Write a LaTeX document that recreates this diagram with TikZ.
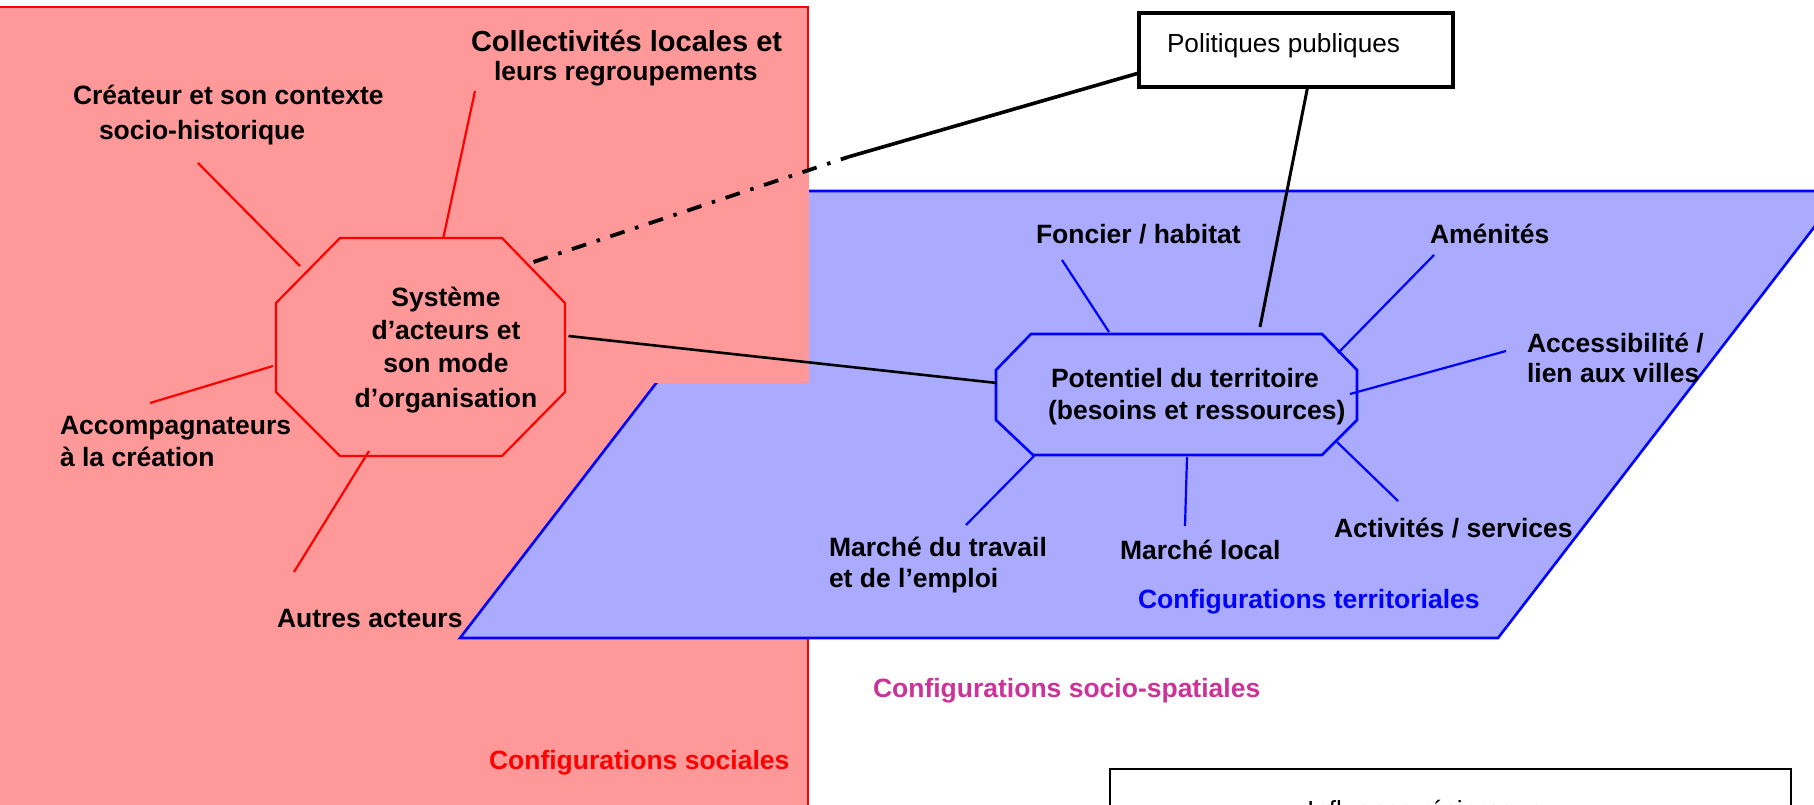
\documentclass[tikz,border=0pt]{standalone}
\usepackage{fontspec}
\setmainfont{Liberation Sans}
\definecolor{redfill}{RGB}{255,153,153}
\definecolor{bluefill}{RGB}{170,170,255}
\definecolor{magtext}{RGB}{204,51,153}
\definecolor{pureblue}{RGB}{0,0,255}
\definecolor{purered}{RGB}{255,0,0}
\tikzset{
  lbl/.style={anchor=base west, inner sep=0pt, outer sep=0pt, font=\fontsize{26.5}{30}\selectfont\bfseries},
  lblc/.style={anchor=base, inner sep=0pt, outer sep=0pt, font=\fontsize{26.5}{30}\selectfont\bfseries},
  plain/.style={anchor=base west, inner sep=0pt, outer sep=0pt, font=\fontsize{26.2}{30}\selectfont},
  redline/.style={draw=purered, line width=2.2pt},
  blueline/.style={draw=pureblue, line width=2.2pt},
  blackline/.style={draw=black, line width=2.6pt},
  thickline/.style={draw=black, line width=3.6pt},
  dashdotline/.style={draw=black, line width=3.8pt, dash pattern=on 15pt off 11pt on 3.5pt off 11pt},
}
\begin{document}
\begin{tikzpicture}[x=1pt,y=-1pt,line join=miter]
\useasboundingbox (0,0) rectangle (1814,805);

% backgrounds
\path[fill=redfill, draw=purered, line width=2pt] (-10,7) rectangle (808,830);
\path[fill=bluefill, draw=pureblue, line width=2.6pt] (804,191) -- (1842,191) -- (1498,638) -- (460,638) -- cycle;
\fill[redfill] (630,172) rectangle (809.3,383);

% red octagon
\draw[redline] (340,238) -- (502,238) -- (565,303) -- (565,392) -- (502,456) -- (340,456) -- (276,392) -- (276,303) -- cycle;
% blue octagon
\draw[blueline, line width=2.6pt] (1031,334) -- (1322,334) -- (1357,370) -- (1357,420) -- (1322,455) -- (1033,455) -- (996,420) -- (996,370) -- cycle;

% boxes
\node[draw=black, line width=3.6pt, fill=white, inner sep=0pt, outer sep=0pt, minimum width=314pt, minimum height=74pt, anchor=north west] (polbox) at (1139,13) {};
\node[draw=black, line width=2pt, fill=white, inner sep=0pt, outer sep=0pt, minimum width=681pt, minimum height=70pt, anchor=north west] (inflbox) at (1110,769) {};

% connector end points
\coordinate (creaE) at (198,163);   \coordinate (creaS) at (300,266);
\coordinate (collE) at (475,91);    \coordinate (collS) at (443.5,237);
\coordinate (accE) at (150,403);    \coordinate (accS) at (273,366);
\coordinate (autE) at (294,572);    \coordinate (autS) at (369,451);
\coordinate (sysR) at (568.5,336);  \coordinate (potL) at (997,383);
\coordinate (sysD) at (533.5,262);  \coordinate (bend) at (848,157);
\coordinate (polW) at (1139,73);
\coordinate (polS) at (1307.6,87);  \coordinate (potT) at (1260,327);
\coordinate (foncE) at (1062,260);  \coordinate (foncS) at (1109,332);
\coordinate (amenE) at (1434,255);  \coordinate (amenS) at (1338,353);
\coordinate (accessE) at (1506,351);\coordinate (accessS) at (1350,394);
\coordinate (mtE) at (966,525);     \coordinate (mtS) at (1034,456);
\coordinate (mlE) at (1185,526);    \coordinate (mlS) at (1187,457);
\coordinate (actE) at (1398,501);   \coordinate (actS) at (1337,442);

% red connectors
\draw[redline] (creaE) -- (creaS);
\draw[redline] (collE) -- (collS);
\draw[redline] (accE) -- (accS);
\draw[redline] (autE) -- (autS);
% black connectors
\draw[blackline] (sysR) -- (potL);
\draw[dashdotline] (sysD) -- (bend);
\draw[thickline] (bend) -- (polW);
\draw[thickline, line width=3pt] (polS) -- (potT);
% blue connectors
\draw[blueline] (foncE) -- (foncS);
\draw[blueline] (amenE) -- (amenS);
\draw[blueline] (accessE) -- (accessS);
\draw[blueline] (mtE) -- (mtS);
\draw[blueline] (mlE) -- (mlS);
\draw[blueline] (actE) -- (actS);

% labels, social side
\node[lbl, font=\fontsize{29}{32}\selectfont\bfseries] (coll1) at (471,52) {Collectivités locales et};
\node[lbl] (coll2) at (494,80.5) {leurs regroupements};
\node[lbl] (crea1) at (73,104.5) {Créateur et son contexte};
\node[lbl] (crea2) at (99,139.5) {socio-historique};
\node[lbl] (acc1) at (60,434.5) {Accompagnateurs};
\node[lbl] (acc2) at (60,466.5) {à la création};
\node[lbl] (autres) at (277,627.5) {Autres acteurs};
\node[lbl, text=purered] (confsoc) at (489,769.5) {Configurations sociales};

\node[lblc] (sys1) at (446,306.5) {Système};
\node[lblc] (sys2) at (446,339.5) {d’acteurs et};
\node[lblc] (sys3) at (446,372.5) {son mode};
\node[lblc] (sys4) at (446,407) {d’organisation};

% labels, territorial side
\node[plain] (pol) at (1167,52.5) {Politiques publiques};
\node[lbl] (fonc) at (1036,243.5) {Foncier / habitat};
\node[lbl] (amen) at (1430,243.5) {Aménités};
\node[lbl] (access1) at (1527,352.5) {Accessibilité /};
\node[lbl] (access2) at (1527,382.5) {lien aux villes};
\node[lbl] (pot1) at (1051,387.5) {Potentiel du territoire};
\node[lbl] (pot2) at (1048,419.5) {(besoins et ressources)};
\node[lbl] (mt1) at (829,556.5) {Marché du travail};
\node[lbl] (mt2) at (829,587.5) {et de l’emploi};
\node[lbl] (ml) at (1120,559.5) {Marché local};
\node[lbl] (act) at (1334,537.5) {Activités / services};
\node[lbl, text=pureblue] (conft) at (1138,608.5) {Configurations territoriales};
\node[lbl, text=magtext] (confss) at (873,697.5) {Configurations socio-spatiales};
\node[plain] (infl) at (1307,819.5) {Influence réciproque};
\end{tikzpicture}
\end{document}
